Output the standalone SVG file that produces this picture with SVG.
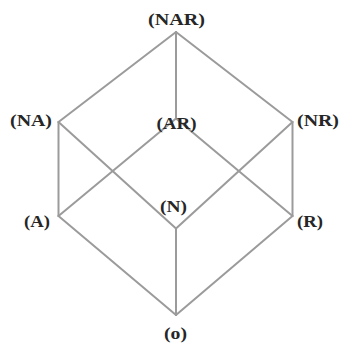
<svg xmlns="http://www.w3.org/2000/svg" width="341" height="343" viewBox="0 0 341 343">
<style>
.e{stroke:#9b9b9b;stroke-width:2;fill:none;stroke-linecap:round}
.t{font-family:"Liberation Serif","Times New Roman",serif;font-weight:bold;font-size:16px;fill:#262626}
</style>
<rect width="341" height="343" fill="#fff"/>
<g id="connectors">
<line class="e" x1="176" y1="32" x2="58.5" y2="122"/>
<line class="e" x1="176" y1="32" x2="292.5" y2="122"/>
<line class="e" x1="176" y1="32" x2="176" y2="118.5"/>
<line class="e" x1="58.5" y1="122" x2="58.5" y2="216"/>
<line class="e" x1="292.5" y1="122" x2="292.5" y2="216"/>
<line class="e" x1="58.5" y1="122" x2="176" y2="228.5"/>
<line class="e" x1="292.5" y1="122" x2="176" y2="228.5"/>
<line class="e" x1="176" y1="118.5" x2="58.5" y2="216"/>
<line class="e" x1="176" y1="118.5" x2="292.5" y2="216"/>
<line class="e" x1="58.5" y1="216" x2="176" y2="315"/>
<line class="e" x1="292.5" y1="216" x2="176" y2="315"/>
<line class="e" x1="176" y1="228.5" x2="176" y2="315"/>
</g>
<g id="NAR"><text class="t" x="148" y="25" textLength="57" lengthAdjust="spacingAndGlyphs">(NAR)</text></g>
<g id="NA"><text class="t" x="10" y="126" textLength="42" lengthAdjust="spacingAndGlyphs">(NA)</text></g>
<g id="NR"><text class="t" x="297" y="126" textLength="42" lengthAdjust="spacingAndGlyphs">(NR)</text></g>
<g id="AR"><text class="t" x="156.5" y="129" textLength="40" lengthAdjust="spacingAndGlyphs">(AR)</text></g>
<g id="N"><text class="t" x="160" y="212" textLength="27" lengthAdjust="spacingAndGlyphs">(N)</text></g>
<g id="A"><text class="t" x="24" y="227" textLength="26" lengthAdjust="spacingAndGlyphs">(A)</text></g>
<g id="R"><text class="t" x="297" y="227" textLength="26" lengthAdjust="spacingAndGlyphs">(R)</text></g>
<g id="o"><text class="t" x="164" y="339" textLength="23" lengthAdjust="spacingAndGlyphs">(o)</text></g>
</svg>
